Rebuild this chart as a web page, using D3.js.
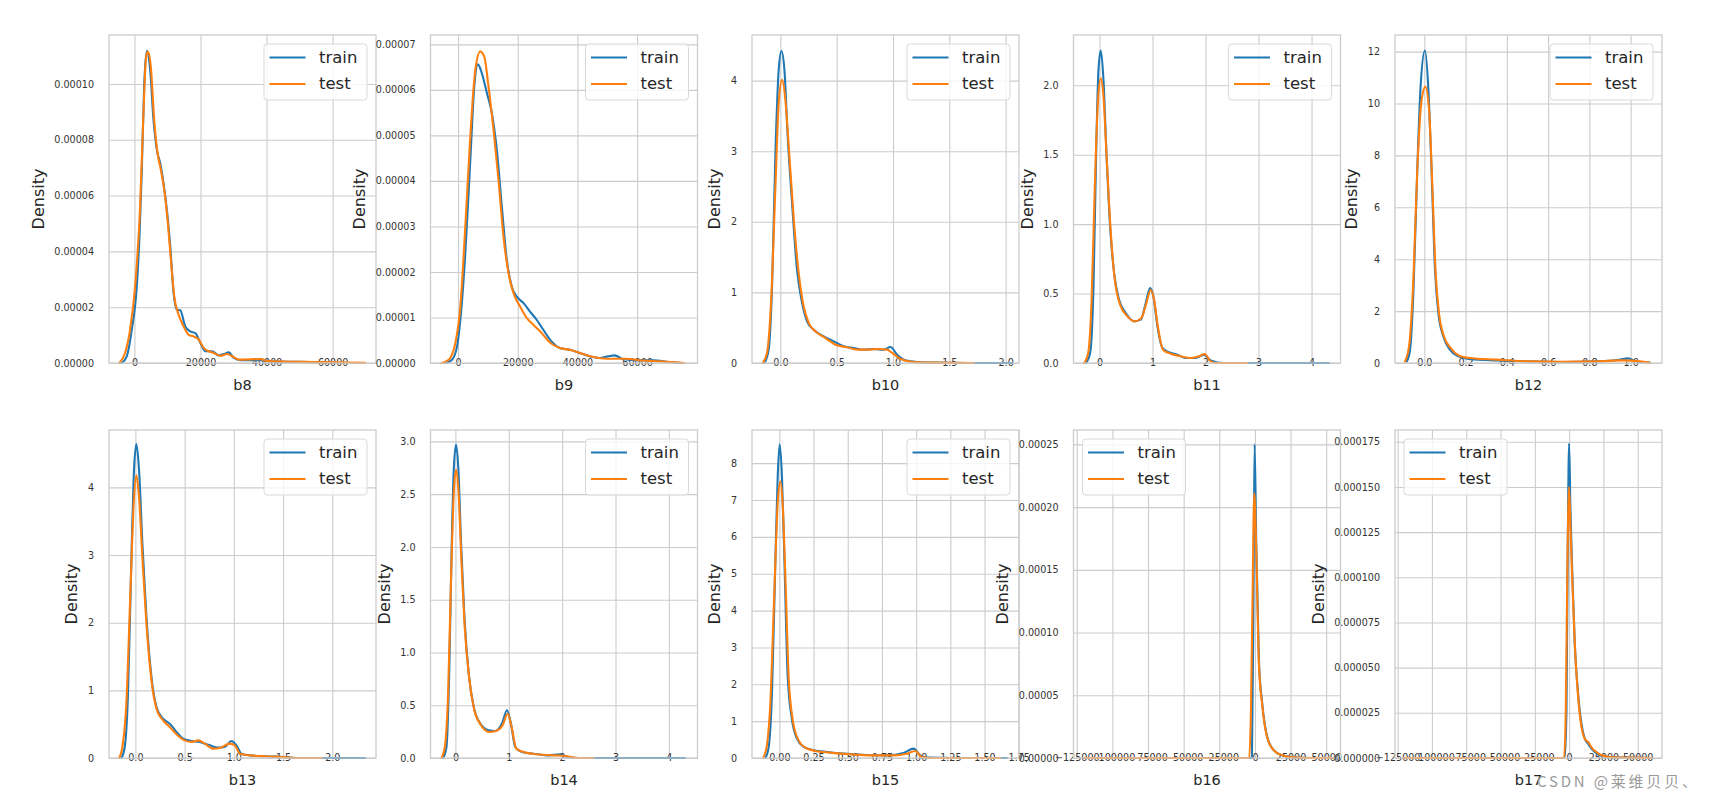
<!DOCTYPE html>
<html><head><meta charset="utf-8">
<script src="https://cdn.jsdelivr.net/npm/d3@7"></script>
<style>
html,body{margin:0;padding:0;background:#fff;}
svg{display:block;}
</style></head><body>
<svg id="chart" width="1710" height="803"></svg>
<script>
// ---------------- DATA ----------------
const features = ["b8","b9","b10","b11","b12","b13","b14","b15","b16","b17"];
const seriesNames = ["train","test"];

const b8Train = [[-3850,0],[-2330,2.4e-6],[-810,1.19e-5],[710,2.74e-5],[1520,4.53e-5],[2230,6.92e-5],[2940,9.9e-5],[3750,1.119e-4],[4760,1.05e-4],[5770,8.71e-5],[6790,7.64e-5],[7800,7.16e-5],[8810,6.44e-5],[9820,5.49e-5],[10840,4.18e-5],[11850,2.51e-5],[12860,1.91e-5],[13870,1.89e-5],[15390,1.31e-5],[16910,1.13e-5],[18430,1.07e-5],[19950,7.2e-6],[21470,4.2e-6],[23490,4.2e-6],[25520,2.7e-6],[27040,3.2e-6],[28560,3.8e-6],[30080,1.8e-6],[32100,1.0e-6],[38180,1.0e-6],[42230,5e-7],[50330,4e-7],[60460,1e-7]];
const b8Test = [[-4560,0],[-2840,3.6e-6],[-1320,1.19e-5],[200,2.74e-5],[1720,5.61e-5],[2730,8.95e-5],[3550,1.098e-4],[4050,1.116e-4],[4960,1.062e-4],[5980,8.71e-5],[6990,7.52e-5],[8000,6.92e-5],[9010,6.21e-5],[10030,5.13e-5],[11040,3.7e-5],[12050,2.39e-5],[13370,1.73e-5],[14890,1.31e-5],[16410,1.01e-5],[17930,9.5e-6],[19440,8.4e-6],[20960,5.4e-6],[22480,4.2e-6],[24000,3.6e-6],[26030,2.6e-6],[28050,3.2e-6],[29570,2.4e-6],[31600,1.2e-6],[38180,1.4e-6],[40200,7e-7],[50330,4e-7],[69880,1e-7]];

const b9Train = [[-4220,0],[-2000,7.3e-7],[-330,3.66e-6],[780,9.5e-6],[2440,2.41e-5],[4110,4.46e-5],[5440,6.07e-5],[6670,6.56e-5],[8000,6.36e-5],[9670,5.93e-5],[11330,5.49e-5],[13000,4.68e-5],[14670,3.44e-5],[16330,2.27e-5],[18000,1.68e-5],[19670,1.46e-5],[21890,1.32e-5],[24110,1.13e-5],[26330,9.5e-6],[28560,7.3e-6],[31330,4.75e-6],[34110,3.3e-6],[37440,2.9e-6],[40780,2.2e-6],[44110,1.46e-6],[47440,1.1e-6],[50220,1.46e-6],[52440,1.68e-6],[55220,8.8e-7],[59670,5.9e-7],[65220,5.9e-7],[70780,2.2e-7],[75220,0]];
const b9Test = [[-5560,0],[-3110,7.3e-7],[-890,4.4e-6],[780,1.24e-5],[2440,3.0e-5],[4110,4.97e-5],[5780,6.44e-5],[7440,6.84e-5],[8780,6.73e-5],[10220,6.07e-5],[11890,5.12e-5],[13560,4.02e-5],[15220,2.78e-5],[16890,1.98e-5],[18560,1.54e-5],[20780,1.24e-5],[23000,9.9e-6],[25220,8.4e-6],[28000,6.6e-6],[30780,4.5e-6],[34110,3.3e-6],[37440,2.9e-6],[40780,2.2e-6],[45220,1.3e-6],[49670,9.5e-7],[56330,9.5e-7],[60780,5.9e-7],[67440,3.7e-7],[75780,0]];

const b10Train = [[-0.142,0],[-0.104,0.19],[-0.074,1.08],[-0.044,2.97],[-0.015,4.15],[0.009,4.42],[0.036,4.15],[0.065,3.21],[0.104,2.26],[0.148,1.32],[0.193,0.85],[0.237,0.59],[0.296,0.47],[0.385,0.377],[0.474,0.307],[0.563,0.236],[0.652,0.212],[0.741,0.189],[0.83,0.198],[0.919,0.189],[0.978,0.226],[1.037,0.118],[1.111,0.038],[1.215,0.014],[1.363,0.005],[1.659,0],[2.059,0]];
const b10Test = [[-0.157,0],[-0.119,0.14],[-0.083,0.85],[-0.044,2.5],[-0.015,3.68],[0.015,4.01],[0.044,3.73],[0.074,3.07],[0.119,2.03],[0.163,1.27],[0.207,0.8],[0.252,0.566],[0.311,0.448],[0.4,0.354],[0.489,0.259],[0.593,0.222],[0.681,0.189],[0.77,0.189],[0.859,0.198],[0.948,0.189],[0.993,0.142],[1.067,0.057],[1.185,0.014],[1.363,0.005],[1.719,0]];

const b11Train = [[-0.257,0],[-0.176,0.072],[-0.113,0.55],[-0.063,1.51],[-0.019,2.11],[0.025,2.25],[0.075,2.04],[0.132,1.51],[0.201,0.98],[0.276,0.647],[0.37,0.456],[0.496,0.36],[0.653,0.3],[0.779,0.312],[0.873,0.432],[0.954,0.54],[1.017,0.48],[1.093,0.264],[1.187,0.108],[1.312,0.077],[1.469,0.06],[1.626,0.036],[1.815,0.036],[1.972,0.06],[2.097,0.019],[2.348,0],[4.327,0]];
const b11Test = [[-0.289,0],[-0.213,0.072],[-0.151,0.43],[-0.088,1.27],[-0.031,1.87],[0.025,2.05],[0.075,1.92],[0.138,1.46],[0.214,0.935],[0.289,0.6],[0.389,0.42],[0.527,0.336],[0.666,0.3],[0.791,0.324],[0.885,0.432],[0.967,0.528],[1.03,0.456],[1.105,0.252],[1.199,0.096],[1.344,0.067],[1.532,0.048],[1.721,0.036],[1.877,0.048],[1.984,0.065],[2.097,0.012],[2.223,0],[2.788,0]];

const b12Train = [[-0.085,0.06],[-0.069,0.51],[-0.053,2.7],[-0.034,7.45],[-0.018,10.65],[0.003,12.04],[0.019,10.65],[0.035,7.45],[0.052,3.59],[0.068,1.93],[0.092,1.03],[0.124,0.51],[0.165,0.26],[0.221,0.15],[0.35,0.1],[0.511,0.064],[0.673,0.039],[0.834,0.064],[0.947,0.128],[0.987,0.18],[1.027,0.064],[1.092,0.013]];
const b12Test = [[-0.094,0.06],[-0.074,0.64],[-0.053,3.21],[-0.034,7.45],[-0.013,10.14],[0.005,10.65],[0.023,9.76],[0.039,6.8],[0.055,3.47],[0.071,1.93],[0.095,1.03],[0.127,0.58],[0.165,0.3],[0.221,0.19],[0.35,0.13],[0.511,0.064],[0.673,0.051],[0.834,0.064],[0.963,0.1],[1.044,0.064],[1.092,0.013]];

const b13Train = [[-0.142,0],[-0.108,0.163],[-0.075,0.952],[-0.041,2.92],[-0.017,4.16],[0.01,4.64],[0.037,4.26],[0.071,3.17],[0.112,2.09],[0.163,1.2],[0.214,0.755],[0.281,0.582],[0.349,0.508],[0.417,0.385],[0.485,0.286],[0.569,0.252],[0.654,0.237],[0.756,0.187],[0.841,0.153],[0.908,0.163],[0.976,0.252],[1.027,0.187],[1.078,0.064],[1.163,0.039],[1.332,0.025],[1.502,0.015],[1.671,0],[2.332,0]];
const b13Test = [[-0.166,0],[-0.132,0.163],[-0.092,0.8],[-0.051,2.43],[-0.017,3.76],[0.01,4.18],[0.037,3.86],[0.071,2.97],[0.112,1.99],[0.163,1.15],[0.214,0.73],[0.281,0.557],[0.349,0.459],[0.417,0.35],[0.485,0.271],[0.569,0.237],[0.637,0.261],[0.705,0.212],[0.79,0.138],[0.858,0.148],[0.959,0.212],[1.01,0.187],[1.061,0.064],[1.163,0.039],[1.332,0.025],[1.502,0.015],[1.671,0],[1.892,0]];

const b14Train = [[-0.231,0],[-0.168,0.104],[-0.118,0.768],[-0.069,2.03],[-0.031,2.73],[0.012,2.97],[0.056,2.73],[0.106,2.03],[0.168,1.34],[0.249,0.8],[0.343,0.484],[0.467,0.326],[0.623,0.262],[0.748,0.256],[0.872,0.326],[0.966,0.452],[1.04,0.326],[1.121,0.104],[1.246,0.057],[1.464,0.041],[1.713,0.025],[1.963,0.035],[2.087,0.009],[2.336,0],[4.299,0]];
const b14Test = [[-0.262,0],[-0.199,0.104],[-0.137,0.61],[-0.081,1.72],[-0.031,2.51],[0.012,2.73],[0.056,2.54],[0.112,1.87],[0.174,1.24],[0.262,0.737],[0.355,0.452],[0.48,0.31],[0.636,0.247],[0.76,0.256],[0.885,0.31],[0.978,0.42],[1.053,0.294],[1.14,0.089],[1.277,0.057],[1.526,0.035],[1.838,0.025],[2.025,0.022],[2.274,0],[2.586,0]];

const b15Train = [[-0.102,0],[-0.078,0.3],[-0.054,1.75],[-0.029,5.37],[-0.012,7.64],[0.002,8.51],[0.019,7.64],[0.037,5.37],[0.061,2.2],[0.093,1.02],[0.129,0.525],[0.178,0.3],[0.251,0.21],[0.348,0.163],[0.47,0.118],[0.64,0.082],[0.786,0.072],[0.908,0.136],[0.981,0.254],[1.03,0.072],[1.078,0.009],[1.37,0],[1.663,0]];
const b15Test = [[-0.119,0],[-0.095,0.254],[-0.066,1.48],[-0.037,4.47],[-0.012,6.91],[0.007,7.5],[0.024,6.91],[0.044,4.92],[0.068,2.2],[0.1,0.98],[0.141,0.48],[0.19,0.28],[0.263,0.19],[0.372,0.145],[0.519,0.1],[0.689,0.072],[0.835,0.072],[0.932,0.118],[0.993,0.19],[1.042,0.027],[1.127,0],[1.614,0]];

const b16Train = [[-119840,0],[-4200,0],[-2100,0],[-930,1.44e-4],[-230,2.5e-4],[930,1.71e-4],[2800,7.8e-5],[5140,4.34e-5],[8640,1.68e-5],[13300,6.1e-6],[19150,2.1e-6],[27330,5e-7],[39000,0],[57700,0]];
const b16Test = [[-119840,0],[-3970,0],[-2800,3.8e-5],[-1640,1.31e-4],[-470,2.11e-4],[930,1.66e-4],[2800,7.5e-5],[5140,4.2e-5],[8640,1.62e-5],[13300,6.1e-6],[19150,2.1e-6],[27330,5e-7],[39000,0],[55000,0]];

const b17Train = [[-120900,0],[-3150,0],[-1940,2.64e-5],[-970,1.19e-4],[0,1.74e-4],[970,1.37e-4],[2430,1.0e-4],[4130,6.3e-5],[6550,3.56e-5],[8980,1.9e-5],[11400,1.07e-5],[13830,7.9e-6],[16260,5.2e-6],[18690,3.3e-6],[22330,1.5e-6],[29610,5.5e-7],[45000,2e-7],[59950,0]];
const b17Test = [[-120900,0],[-3640,0],[-2430,2.64e-5],[-1210,1.09e-4],[0,1.5e-4],[970,1.28e-4],[2430,9.65e-5],[4130,6.3e-5],[6550,3.38e-5],[8980,1.72e-5],[11400,1.07e-5],[13830,8.9e-6],[17000,5.2e-6],[19900,3.3e-6],[23540,1.5e-6],[29610,5.5e-7],[45000,2e-7],[59950,0]];

// axis limits (data units)
const xLimits = [[-7697,73117],[-9222,80222],[-0.252,2.119],[-0.49,4.546],[-0.142,1.152],[-0.268,2.444],[-0.467,4.536],[-0.2,1.752],[-127300,60040],[-126900,67700]];
const yLimits = [1.1754e-4,7.205e-5,4.646,2.362,12.64,4.848,3.108,8.90,2.615e-4,1.815e-4];

// ticks and labels
const bigXTicks = [-125000,-100000,-75000,-50000,-25000,0,25000,50000];
const bigXLabels = ["\u2212125000","\u2212100000","\u221275000","\u221250000","\u221225000","0","25000","50000"];
const xTicks = [
  [0,20000,40000,60000],[0,20000,40000,60000],[0,0.5,1,1.5,2],[0,1,2,3,4],[0,0.2,0.4,0.6,0.8,1.0],
  [0,0.5,1,1.5,2],[0,1,2,3,4],[0,0.25,0.5,0.75,1,1.25,1.5,1.75],bigXTicks,bigXTicks];
const xLabels = [
  ["0","20000","40000","60000"],["0","20000","40000","60000"],["0.0","0.5","1.0","1.5","2.0"],["0","1","2","3","4"],["0.0","0.2","0.4","0.6","0.8","1.0"],
  ["0.0","0.5","1.0","1.5","2.0"],["0","1","2","3","4"],["0.00","0.25","0.50","0.75","1.00","1.25","1.50","1.75"],bigXLabels,bigXLabels];
const yTicks = [
  [0,2e-5,4e-5,6e-5,8e-5,1e-4],[0,1e-5,2e-5,3e-5,4e-5,5e-5,6e-5,7e-5],[0,1,2,3,4],[0,0.5,1,1.5,2],[0,2,4,6,8,10,12],
  [0,1,2,3,4],[0,0.5,1,1.5,2,2.5,3],[0,1,2,3,4,5,6,7,8],[0,5e-5,1e-4,1.5e-4,2e-4,2.5e-4],[0,2.5e-5,5e-5,7.5e-5,1e-4,1.25e-4,1.5e-4,1.75e-4]];
const yLabels = [
  ["0.00000","0.00002","0.00004","0.00006","0.00008","0.00010"],
  ["0.00000","0.00001","0.00002","0.00003","0.00004","0.00005","0.00006","0.00007"],
  ["0","1","2","3","4"],["0.0","0.5","1.0","1.5","2.0"],["0","2","4","6","8","10","12"],
  ["0","1","2","3","4"],["0.0","0.5","1.0","1.5","2.0","2.5","3.0"],["0","1","2","3","4","5","6","7","8"],
  ["0.00000","0.00005","0.00010","0.00015","0.00020","0.00025"],
  ["0.000000","0.000025","0.000050","0.000075","0.000100","0.000125","0.000150","0.000175"]];
const legendSide = ["right","right","right","right","right","right","right","right","left","left"];
const watermark = "CSDN @莱维贝贝、";

const trainSeries = [b8Train,b9Train,b10Train,b11Train,b12Train,b13Train,b14Train,b15Train,b16Train,b17Train];
const testSeries = [b8Test,b9Test,b10Test,b11Test,b12Test,b13Test,b14Test,b15Test,b16Test,b17Test];

// ---------------- LAYOUT / STYLE ----------------
const colors = ["#1f77b4","#ff7f0e"];
const gridColor = "#cccccc";
const textColor = "#333333";
const FONT = "'DejaVu Sans', sans-serif";
const colLeft0 = 109, colStep = 321.5, axW = 267, axH = 328, rowTops = [35,430];

const svg = d3.select("#chart");
svg.append("rect").attr("width",1710).attr("height",803).attr("fill","#fff");

features.forEach((name,i)=>{
  const r = Math.floor(i/5), c = i%5;
  const L = colLeft0 + c*colStep, T = rowTops[r];
  const x = d3.scaleLinear().domain(xLimits[i]).range([0,axW]);
  const y = d3.scaleLinear().domain([0,yLimits[i]]).range([axH,0]);
  const g = svg.append("g").attr("transform",`translate(${L},${T})`);

  // grid
  g.append("g").attr("transform",`translate(0,${axH})`)
    .call(d3.axisBottom(x).tickValues(xTicks[i]).tickSize(-axH).tickFormat(""))
    .call(a=>{a.select(".domain").remove();a.selectAll("line").attr("stroke",gridColor).attr("stroke-width",1.1);});
  g.append("g")
    .call(d3.axisLeft(y).tickValues(yTicks[i]).tickSize(-axW).tickFormat(""))
    .call(a=>{a.select(".domain").remove();a.selectAll("line").attr("stroke",gridColor).attr("stroke-width",1.1);});

  // tick labels
  const xa = g.append("g").attr("transform",`translate(0,${axH})`)
    .call(d3.axisBottom(x).tickValues(xTicks[i]).tickFormat((d,k)=>xLabels[i][k]).tickSize(0).tickPadding(0));
  xa.select(".domain").remove();
  xa.selectAll("text").attr("dy","0.36em").attr("font-size",9.6).attr("font-family",FONT).attr("fill",textColor);

  const ya = g.append("g")
    .call(d3.axisLeft(y).tickValues(yTicks[i]).tickFormat((d,k)=>yLabels[i][k]).tickSize(0).tickPadding(15));
  ya.select(".domain").remove();
  ya.selectAll("text").attr("font-size",9.6).attr("font-family",FONT).attr("fill",textColor);
  let maxW = 0;
  ya.selectAll("text").each(function(){maxW=Math.max(maxW,this.getComputedTextLength());});

  // curves
  const line = d3.line().x(d=>x(d[0])).y(d=>y(d[1])).curve(d3.curveMonotoneX);
  [trainSeries[i],testSeries[i]].forEach((s,k)=>{
    g.append("path").datum(s).attr("d",line).attr("fill","none")
      .attr("stroke",colors[k]).attr("stroke-width",2.1).attr("stroke-linejoin","round").attr("stroke-linecap","round");
  });

  // frame
  g.append("rect").attr("x",0).attr("y",0).attr("width",axW).attr("height",axH)
    .attr("fill","none").attr("stroke",gridColor).attr("stroke-width",1.3);

  // axis titles
  g.append("text").attr("x",axW/2).attr("y",axH+21.5).attr("text-anchor","middle")
    .attr("dominant-baseline","central").attr("font-family",FONT).attr("font-size",14.5)
    .attr("fill","#262626").text(name);
  const dx = -15 - maxW - 16;
  g.append("text").attr("transform",`translate(${dx},${axH/2}) rotate(-90)`).attr("text-anchor","middle")
    .attr("dominant-baseline","central").attr("font-family",FONT).attr("font-size",16)
    .attr("fill","#262626").text("Density");

  // legend
  const lw = 103, lh = 56;
  const lx = legendSide[i]==="right" ? axW-9-lw : 9, ly = 9;
  const lg = g.append("g").attr("transform",`translate(${lx},${ly})`);
  lg.append("rect").attr("width",lw).attr("height",lh).attr("rx",3.5)
    .attr("fill","#fff").attr("fill-opacity",0.8).attr("stroke","#d9d9d9").attr("stroke-width",1);
  seriesNames.forEach((s,k)=>{
    const yy = 13.5 + k*26.5;
    lg.append("line").attr("x1",5.5).attr("x2",41.5).attr("y1",yy).attr("y2",yy)
      .attr("stroke",colors[k]).attr("stroke-width",2.2);
    lg.append("text").attr("x",55).attr("y",yy).attr("dy","0.33em").attr("font-family",FONT)
      .attr("font-size",16.5).attr("fill","#262626").text(s);
  });
});

// watermark
svg.append("text").attr("x",1537).attr("y",787).attr("font-family","'Noto Sans CJK SC', sans-serif")
  .attr("font-size",15).attr("fill","#9a9a9a").attr("textLength",160).attr("lengthAdjust","spacing")
  .text(watermark);
</script>
</body></html>
